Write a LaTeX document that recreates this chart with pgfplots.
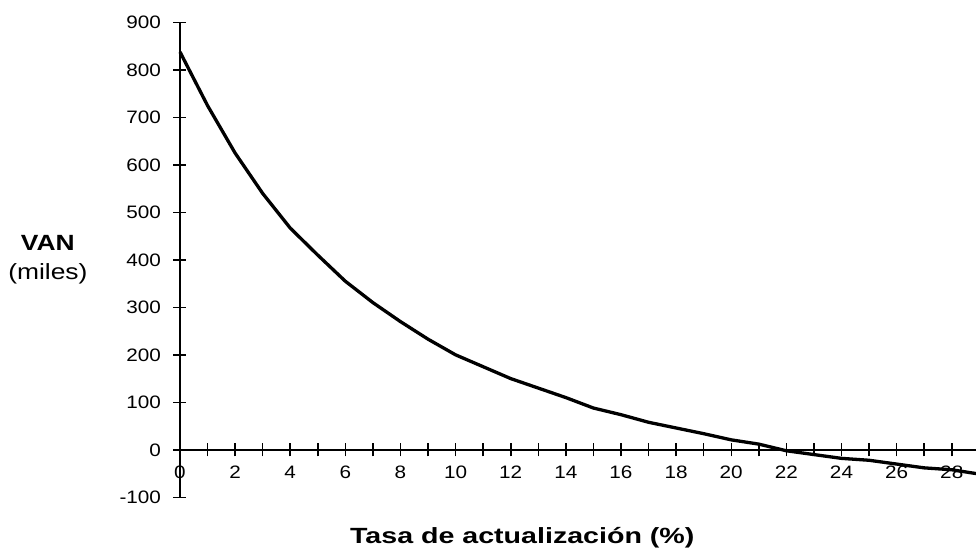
\documentclass[border=0pt]{standalone}
\usepackage{pgfplots}
\pgfplotsset{compat=1.18}
\usepackage{fontspec}
\setmainfont{Liberation Sans}
\newfontfamily\tickfont[FakeStretch=1.15]{Liberation Sans}
\newfontfamily\labfont[FakeStretch=1.2]{Liberation Sans}
\newfontfamily\xlabfont[FakeStretch=1.3]{Liberation Sans}
\begin{document}
\begin{tikzpicture}
\useasboundingbox (-180pt,-53.7pt) rectangle (796pt,497.3pt);
\begin{axis}[
  at={(0pt,0pt)}, anchor=south west,
  scale only axis, width=796pt, height=474.8pt,
  xmin=0, xmax=28.88, ymin=-100, ymax=900,
  axis x line=middle, axis y line=left,
  axis line style={-, line width=1.7pt},
  every tick/.style={black, line width=1.5pt},
  tick align=center,
  major tick length=13pt, minor tick length=13pt,
  xtick={0,2,...,28}, minor xtick={1,3,...,27},
  ytick={-100,0,...,900},
  hide obscured x ticks=false,
  /pgf/number format/assume math mode=true,
  tick label style={font=\tickfont\fontsize{18}{21}\selectfont},
  xticklabel style={yshift=-6pt},
  yticklabel style={xshift=-9pt},
  xlabel={\textbf{Tasa de actualización (\%)}},
  ylabel={\textbf{VAN}\\(miles)},
  every axis x label/.style={at={(axis description cs:0.43,-0.086)}, anchor=center, font=\xlabfont\fontsize{22}{25}\selectfont},
  every axis y label/.style={at={(axis description cs:-0.166,0.5)}, anchor=center, align=center, font=\labfont\fontsize{22}{29}\selectfont},
  clip=false,
]
\addplot[black, line width=3.3pt, line join=round] coordinates {
(0,838) (1,725) (2,625) (3,540) (4,467) (5,410) (6,355) (7,310) (8,270)
(9,233) (10,200) (11,175) (12,150) (13,130) (14,110) (15,88) (16,74)
(17,58) (18,46) (19,34) (20,21) (21,12) (22,-2) (23,-10) (24,-18)
(25,-22) (26,-30) (27,-38) (28,-42) (28.88,-50)
};
\end{axis}
\end{tikzpicture}
\end{document}
